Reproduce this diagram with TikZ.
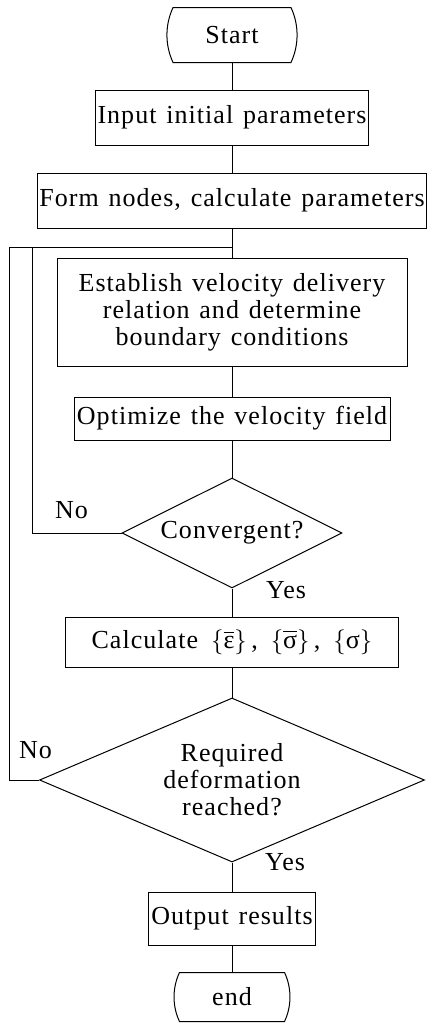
\documentclass[tikz,border=0pt]{standalone}
\usepackage{amsmath}
\usepackage{fontspec}
\setmainfont{Liberation Serif}[LetterSpace=4, WordSpace=1.3]
\usetikzlibrary{shapes.geometric, shapes.misc, positioning}
\newcommand{\flowfont}{\fontsize{26}{27}\selectfont}
\tikzset{
  proc/.style={rectangle, draw, minimum height=55pt,
               align=center, font=\flowfont, inner sep=2pt},
  term/.style={rounded rectangle, rounded rectangle arc length=50, draw,
               minimum width=104pt, minimum height=55pt, font=\flowfont},
  dec/.style={diamond, draw, align=center, font=\flowfont, inner sep=0pt},
  lbl/.style={font=\flowfont, inner sep=0pt},
}

\begin{document}
\begin{tikzpicture}[x=1pt, y=1pt, on grid, line width=1pt]
  \useasboundingbox (0,0) rectangle (429,-1028);
  \node[term]                                        (start)               at (232,-35) {Start};
  \node[proc, minimum width=269pt]                   (input) [below=82.5pt of start] {Input initial parameters};
  \node[proc, minimum width=386pt]                   (form)  [below=83pt of input]   {Form nodes, calculate parameters};
  \node[proc, minimum width=350pt, minimum height=108pt] (estab) [below=111.5pt of form] {Establish velocity delivery\\relation and determine\\boundary conditions};
  \node[proc, minimum width=316pt, minimum height=43pt]  (optim) [below=106.5pt of estab] {Optimize the velocity field};
  \node[dec, minimum width=220pt, minimum height=110pt, aspect=2]    (conv) [below=114.5pt of optim] {Convergent?};
  \node[proc, minimum width=333pt, minimum height=50pt]  (calc)  [below=109pt of conv]
    {Calculate\enspace$\{\overline{\text{ε}}\}$\,,\enspace$\{\overline{\text{σ}}\}$\,,\enspace$\{\text{σ}\}$};
  \node[dec, minimum width=385pt, minimum height=164pt, aspect=2.35] (req)  [below=138pt of calc] {Required\\deformation\\reached?};
  \node[proc, minimum width=167pt, minimum height=53pt]  (out)   [below=138.5pt of req] {Output results};
  \node[term, minimum width=102pt, minimum height=49pt]  (end)   [below=78.5pt of out]  {end};

  % return points of the two loops
  \coordinate[below=19pt of form.south] (jn);
  \coordinate[left=200pt of jn]         (loopin);
  \coordinate[left=223pt of jn]         (loopout);

  \node[lbl, above left=23pt and 50pt of conv.west, anchor=center]   (no1)  {No};
  \node[lbl, below right=2pt and 54pt of conv.south, anchor=center] (yes1) {Yes};
  \node[lbl, above left=30pt and 3.5pt of req.west, anchor=center]  (no2)  {No};
  \node[lbl, right=53pt of req.south, anchor=center]                (yes2) {Yes};

  \draw (start.south) -- (input.north);
  \draw (input.south) -- (form.north);
  \draw (form.south)  -- (estab.north);
  \draw (estab.south) -- (optim.north);
  \draw (optim.south) -- (conv.north);
  \draw (conv.south)  -- (calc.north);
  \draw (calc.south)  -- (req.north);
  \draw (req.south)   -- (out.north);
  \draw (out.south)   -- (end.north);
  \draw (conv.west) -| (loopin) -- (jn);
  \draw (req.west)  -| (loopout) -- (loopin);
\end{tikzpicture}
\end{document}
